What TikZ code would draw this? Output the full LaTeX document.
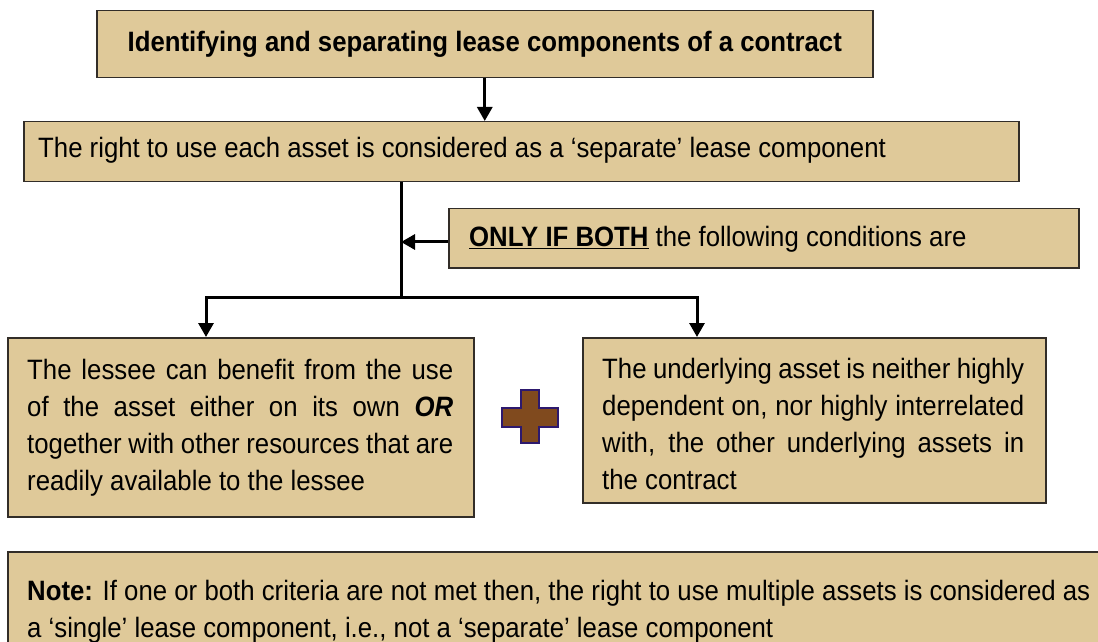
\documentclass[tikz,border=0pt]{standalone}
\usepackage{fontspec}
\setmainfont{Liberation Sans}[FakeStretch=0.92]
\usetikzlibrary{arrows.meta}
\hyphenpenalty=10000
\exhyphenpenalty=10000
\tolerance=9999
\hbadness=10000
\setlength{\parindent}{0pt}
\newcommand{\bodysize}{\fontsize{28bp}{37.3bp}\selectfont}
\definecolor{boxfill}{RGB}{223,201,153}
\definecolor{boxline}{RGB}{50,45,40}
\definecolor{plusfill}{RGB}{128,74,30}
\definecolor{plusline}{RGB}{45,25,110}
\tikzset{
  box/.style={draw=boxline, line width=1.5bp, fill=boxfill, rectangle,
    inner sep=0pt, anchor=north west},
  txt/.style={inner sep=0pt, font=\bodysize},
  para/.style={txt, anchor=base west, align=justify, text width=#1},
  link/.style={line width=3bp, draw=black},
  arr/.style={link, -{Triangle[length=14bp,width=15bp]}},
  plussign/.style={fill=plusfill, draw=plusline, line width=2.5bp, line join=miter},
}
\begin{document}
\begin{tikzpicture}[x=1bp, y=-1bp]
  \clip (0,0) rectangle (1098,642);
  \fill[white] (0,0) rectangle (1098,642);

  % boxes
  \node[box, minimum width=776bp, minimum height=67bp]  (title) at (96,10) {};
  \node[box, minimum width=995bp, minimum height=60bp]  (box2)  at (23,121) {};
  \node[box, minimum width=630bp, minimum height=59bp]  (box3)  at (448,208) {};
  \node[box, minimum width=466bp, minimum height=179bp] (left)  at (7,337) {};
  \node[box, minimum width=463bp, minimum height=165bp] (right) at (582,337) {};
  \node[box, minimum width=1120bp, minimum height=120bp] (note) at (7,551) {};

  % texts
  \node[txt, anchor=base] (titletext) at ([shift={(0,42)}]title.north)
    {\textbf{Identifying and separating lease components of a contract}};
  \node[txt, anchor=base west] (box2text) at ([shift={(15,37)}]box2.north west)
    {The right to use each asset is considered as a ‘separate’ lease component};
  \node[txt, anchor=base west] (box3text) at ([shift={(21,39)}]box3.north west)
    {\underline{\textbf{ONLY IF BOTH}} the following conditions are};
  \node[para=426bp] (lefttext) at ([shift={(20,42)}]left.north west)
    {The lessee can benefit from the use\linebreak
     of the asset either on its own \textbf{\textit{OR}}\linebreak
     together with other resources that are\linebreak
     readily available to the lessee};
  \node[para=422bp] (righttext) at ([shift={(20,41)}]right.north west)
    {The underlying asset is neither highly\linebreak
     dependent on, nor highly interrelated\linebreak
     with, the other underlying assets in\linebreak
     the contract};
  \node[para=1063bp] (notetext) at ([shift={(20,49)}]note.north west)
    {\textbf{Note:} If one or both criteria are not met then, the right to use multiple assets is considered as\linebreak
     a ‘single’ lease component, i.e., not a ‘separate’ lease component};

  % plus sign between the two conditions
  \filldraw[plussign] (521,390) -- (539,390) -- (539,408) -- (558,408) -- (558,427)
    -- (539,427) -- (539,443) -- (521,443) -- (521,427) -- (502,427) -- (502,408)
    -- (521,408) -- cycle;

  % connectors
  \coordinate (c2) at (401,242);
  \coordinate (jl) at (206,297);
  \coordinate (jr) at (697,297);
  \draw[arr] (title.south) -- (box2.north -| title.south);
  \draw[link] (box2.south -| c2) -- (c2 |- jl);
  \draw[arr] (box3.west |- c2) -- (c2);
  \draw[link, {Triangle[length=14bp,width=15bp]}-{Triangle[length=14bp,width=15bp]}]
    (left.north -| jl) -- (jl) -- (jr) -- (right.north -| jr);
\end{tikzpicture}
\end{document}
